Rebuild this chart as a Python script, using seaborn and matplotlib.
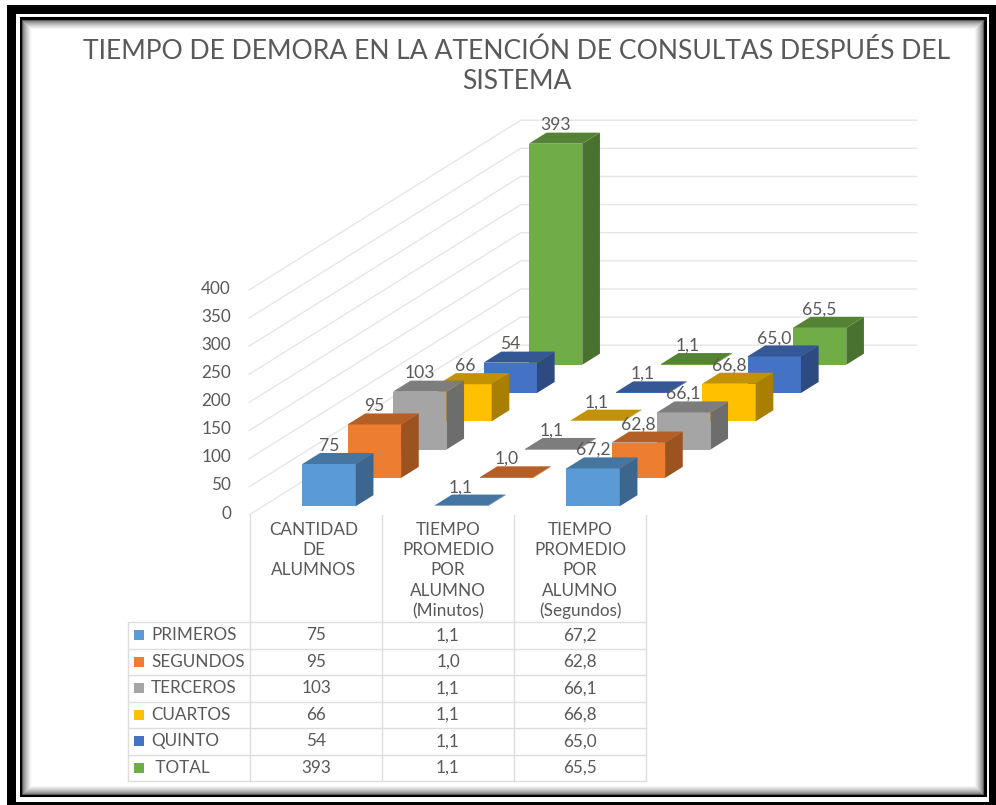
import numpy as np
import pandas as pd
import seaborn as sns
import matplotlib.pyplot as plt
from matplotlib.patches import Polygon, Rectangle
from matplotlib.transforms import Affine2D
from matplotlib.colors import to_rgb

title = "TIEMPO DE DEMORA EN LA ATENCIÓN DE CONSULTAS DESPUÉS DEL\nSISTEMA"
grupos = ["PRIMEROS", "SEGUNDOS", "TERCEROS", "CUARTOS", "QUINTO", " TOTAL"]
medidas = ["CANTIDAD\nDE\nALUMNOS",
           "TIEMPO\nPROMEDIO\nPOR\nALUMNO\n(Minutos)",
           "TIEMPO\nPROMEDIO\nPOR\nALUMNO\n(Segundos)"]
cantidad = [75, 95, 103, 66, 54, 393]
minutos = [1.1, 1.0, 1.1, 1.1, 1.1, 1.1]
segundos = [67.2, 62.8, 66.1, 66.8, 65.0, 65.5]
colores = ["#5B9BD5", "#ED7D31", "#A5A5A5", "#FFC000", "#4472C4", "#70AD47"]
ticks = [0, 50, 100, 150, 200, 250, 300, 350, 400]

texto = "#595959"
linea = "#DDDDDD"

sns.set_theme(style="white")
plt.rcParams["font.family"] = ["Lato", "DejaVu Sans"]


def coma(v):
    return f"{v:.1f}".replace(".", ",")


# pixels per category / per unit, and the oblique shift of one row of depth
cat_px = 132.0
val_px = 0.5625
x0_px, y0_px = 249.0, 515.0
DX = 45.3 / cat_px
DV = 28.3 / val_px
n_prof = 6
ancho = 0.405
d_front, d_fondo = 0.31, 0.70


def oblicua(x, d, v):
    return x + d * DX, v + d * DV


fig = plt.figure(figsize=(9.96, 8.05), dpi=100)
ax = fig.add_axes([0, 0, 1, 1])

df = pd.DataFrame({"grupo": grupos, "a": cantidad, "b": minutos, "c": segundos})
df = df.melt(id_vars="grupo", var_name="medida", value_name="valor")
etiquetas = {"a": [str(v) for v in cantidad], "b": [coma(v) for v in minutos], "c": [coma(v) for v in segundos]}

# walls first
for t in ticks:
    xs, ys = zip(oblicua(-0.5, 0, t), oblicua(-0.5, n_prof, t), oblicua(2.5, n_prof, t))
    ax.plot(xs, ys, color="#E6E6E6", lw=1, zorder=1)

# rows go back to front so nearer bars cover the ones behind
for i in reversed(range(len(grupos))):
    sub = df[df["grupo"] == grupos[i]]
    z = 10 + (len(grupos) - i) * 2
    c = np.array(to_rgb(colores[i]))
    desplaza = Affine2D().translate(*oblicua(0, i + d_front, 0)) + ax.transData
    sns.barplot(data=sub, x="medida", y="valor", color=colores[i], saturation=1, width=ancho,
                errorbar=None, ax=ax, transform=desplaza, zorder=z, linewidth=0)
    for j, (_, fila) in enumerate(sub.iterrows()):
        l, r = j - ancho / 2, j + ancho / 2
        v = fila["valor"]
        d1, d2 = i + d_front, i + d_fondo
        ax.add_patch(Polygon([oblicua(r, d1, 0), oblicua(r, d2, 0), oblicua(r, d2, v), oblicua(r, d1, v)],
                             facecolor=c * 0.66, edgecolor="none", zorder=z))
        ax.add_patch(Polygon([oblicua(l, d1, v), oblicua(r, d1, v), oblicua(r, d2, v), oblicua(l, d2, v)],
                             facecolor=c * 0.76, edgecolor="none", zorder=z))
        tx, ty = oblicua(j, d1, v)
        ax.annotate(etiquetas[fila["medida"]][i], (tx, ty), xytext=(0, 13.2), textcoords="offset points",
                    ha="center", va="center", fontsize=12.6, color=texto, zorder=100)

ax.set_xlim(-0.5 - x0_px / cat_px, -0.5 + (996 - x0_px) / cat_px)
ax.set_ylim(-(805 - y0_px) / val_px, y0_px / val_px)
ax.set_axis_off()

# frame, title, value labels and data table, placed in image pixels
pg = fig.add_axes([0, 0, 1, 1], zorder=5)
pg.set_facecolor("none")
pg.set_xlim(0, 996)
pg.set_ylim(805, 0)
pg.set_axis_off()


def marco(x1, y1, x2, y2, color, **kw):
    pg.add_patch(Rectangle((x1, y1), x2 - x1, y2 - y1, facecolor="none", edgecolor=color, **kw))


# outer black band is not even: thin along the bottom
for x, y, w, h in [(6.5, 5, 983, 9.3), (6.5, 5, 9.3, 800), (989.3, 5, 6.7, 800), (6.5, 802, 983, 3)]:
    pg.add_patch(Rectangle((x, y), w, h, facecolor="black", edgecolor="none"))
marco(20.5, 18.5, 984.5, 795, "black", lw=2.2)
for k in range(9):
    gris = 0.35 + 0.65 * (k / 9) ** 0.6
    marco(22 + k, 20 + k, 983 - k, 793.5 - k, (gris, gris, gris), lw=0.8)

pg.text(517, 66.5, title, ha="center", va="center", fontsize=19.1, color=texto, linespacing=1.27)

for t in ticks:
    pg.text(231, y0_px - t * val_px - 1.5, str(t), ha="right", va="center", fontsize=12.3, color=texto)

cols = [250, 382, 514, 646]
filas = [622, 648.5, 675, 701.5, 728, 754.5, 781]
centros = [314, 448, 580]
for x in cols:
    pg.plot([x, x], [515, filas[-1]], color=linea, lw=1)
pg.plot([128, 128], [filas[0], filas[-1]], color=linea, lw=1)
for y in filas:
    pg.plot([128, 646], [y, y], color=linea, lw=1)

for cx, m in zip(centros, medidas):
    for n, parte in enumerate(m.split("\n")):
        pg.text(cx, 529.5 + n * 20.4, parte, ha="center", va="center", fontsize=12.3, color=texto)

for i, g in enumerate(grupos):
    cy = (filas[i] + filas[i + 1]) / 2
    pg.add_patch(Rectangle((134, cy - 5), 10, 10, facecolor=colores[i], edgecolor="none"))
    pg.text(151, cy, g, ha="left", va="center", fontsize=12.3, color=texto)
    for cx, serie in zip(centros, [etiquetas["a"], etiquetas["b"], etiquetas["c"]]):
        pg.text(cx + 2 if cx == 314 else cx, cy, serie[i], ha="center", va="center", fontsize=12.3, color=texto)

fig.savefig("out.png", dpi=100)
